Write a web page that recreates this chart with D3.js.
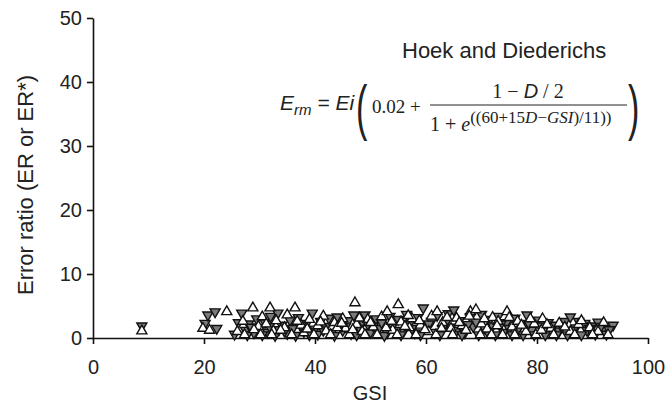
<!DOCTYPE html>
<html><head><meta charset="utf-8">
<script src="https://cdn.jsdelivr.net/npm/d3@7"></script>
<style>
body{margin:0;background:#fff;}
svg text{font-family:"Liberation Sans",Arial,sans-serif;fill:#222;}
</style></head>
<body><svg id="c" width="667" height="407"></svg>
<script>
// Down-triangle series (grey) — ER
const gsiER = [8.8,20.2,20.7,22,22.3,26.8,27.5,28,29,29.5,30,31,31.5,32,33.3,33.5,34,35,35.5,36,37,38,38.5,39.5,40,40.5,41,42,42.5,43,44,44.5,45,46,46.5,47,48,49,49.5,50,51,51.5,52,53,53.5,54,55,56,56.5,57,58,58.5,59.5,60,61,61.5,62,63,63.5,64,65,65.5,66,67,68,68.5,69,70,71,71.5,72,73,74,74.5,75,76,77,78.2,79,80,81,82,83,84,85,86,87,88.6,89,90,91,92,93.7,
  27.8,28.5,30.5,31.8,32.8,34.5,36.5,37.5,39,41.5,43.5,45.5,47.5,48.5,50.5,52.5,54.5,55.5,57.5,59,60.5,62.5,64.5,66.5,67.5,69.5,70.5,72.5,73.5,75.5,76.5,77.5,78.5,79.5,80.5,81.5,82.5,83.5,84.5,85.5,86.5,87.5,88,89.5,90.5,91.5,92.5,93,25.5,26.2];
const valER = [1.9,2.3,3.6,4.1,1.5,3.9,1.2,2.2,0.8,3.0,1.6,2.4,0.9,3.4,3.9,1.3,2.0,0.7,2.8,1.5,3.2,1.0,2.3,3.9,1.4,0.6,2.6,1.8,3.1,0.9,3.3,2.0,1.2,2.7,0.7,3.6,1.6,3.6,2.2,0.9,3.0,1.5,2.4,0.8,3.4,1.9,2.9,1.1,3.7,2.2,0.8,3.2,4.7,1.7,2.6,0.9,3.5,1.4,2.3,3.8,4.4,1.2,2.7,0.8,3.3,1.8,2.5,3.7,1.1,2.9,1.9,3.4,0.9,2.4,1.5,3.1,2.0,3.6,1.2,2.8,1.7,2.4,2.0,1.1,2.6,3.3,1.6,2.3,1.2,1.9,2.5,1.4,2.0,
  0.5,1.7,0.5,1.8,0.4,1.1,0.4,2.0,0.5,1.2,0.4,1.8,0.5,2.6,1.9,0.4,1.2,0.5,1.5,0.5,2.2,0.5,1.7,0.5,2.1,0.5,1.6,0.5,2.2,0.5,1.3,0.5,2.3,0.5,1.9,0.5,1.3,0.5,1.8,0.5,1.2,2.6,0.5,1.5,0.6,1.8,0.6,1.3,0.6,2.4];
// Up-triangle series (white) — ER*
const gsiERs = [8.8,19.8,21,24.1,26,27,28.8,29.8,30.5,31.9,32.5,33,34.5,35,36.4,37.5,38,39,40.5,41.5,42,43.5,45,45.5,47.2,47.5,48.5,49.5,50.5,52,53,54,55,55.5,57,57.5,59,60.5,61,62,63,64.5,65.5,66.5,68,69,70,71,72,73,74.6,75.5,76.5,78,79.5,81,82.5,84,86,87.5,89.5,91,
  27.3,29,30.2,31.2,32.2,33.8,35.8,36.8,38.6,39.8,41,42.8,44,44.8,46.2,46.8,48,49,50,51.2,52.8,53.8,54.8,56.2,56.8,58.2,58.8,59.8,61.8,62.8,63.8,64.8,66,67.2,67.8,69.8,70.5,71.8,72.8,73.8,75,76,77.2,78.8,79.8,80.8,81.8,83,85,86.8,88,90,92,92.8];
const valERs = [1.1,1.5,1.2,4.1,1.0,2.6,4.7,1.8,3.3,4.7,1.1,2.7,1.6,3.6,4.7,2.0,0.8,2.9,1.9,3.4,1.1,2.4,3.0,1.5,5.5,2.1,1.0,2.9,1.7,3.3,4.1,1.2,5.2,2.5,1.6,3.0,2.0,1.0,3.4,4.1,2.4,1.5,3.1,1.9,4.1,4.4,2.2,1.4,3.2,2.6,4.1,1.7,2.6,1.0,2.2,3.0,1.5,2.3,1.0,2.1,1.6,1.0,
  0.5,1.3,0.5,2.2,0.5,1.2,0.5,2.6,1.4,0.5,2.5,0.5,1.6,2.3,0.5,1.3,3.1,0.5,2.4,0.5,1.6,2.6,0.5,1.8,3.5,0.5,2.7,1.3,0.5,1.5,3.2,0.5,2.4,1.2,3.4,0.5,3.0,0.5,1.9,0.5,3.2,0.5,2.0,3.0,0.5,1.2,2.1,0.5,1.7,0.5,2.7,0.5,2.4,0.5];
const xTicks = [0,20,40,60,80,100];
const yTicks = [0,10,20,30,40,50];
const xTitle = "GSI";
const yTitle = "Error ratio (ER or ER*)";
const annoTitle = "Hoek and Diederichs";

const svg = d3.select("#c");
const x = d3.scaleLinear().domain([0,100]).range([93,648]);
const y = d3.scaleLinear().domain([0,50]).range([338,18]);

const gx = svg.append("g").attr("transform","translate(0,338)")
  .call(d3.axisBottom(x).tickValues(xTicks).tickSize(6).tickSizeOuter(0).tickPadding(16));
const gy = svg.append("g").attr("transform","translate(93,0)")
  .call(d3.axisLeft(y).tickValues(yTicks).tickSize(6).tickSizeOuter(0).tickPadding(5));
[gx,gy].forEach(g=>{
  g.selectAll("path,line").attr("stroke","#111").attr("stroke-width",1.6);
  g.selectAll("text").style("font-size","20px").attr("fill","#222");
});

svg.append("text").attr("x",370).attr("y",400).attr("text-anchor","middle")
  .style("font-size","20px").text(xTitle);
svg.append("text").attr("transform","translate(33,185) rotate(-90)").attr("text-anchor","middle")
  .style("font-size","22px").text(yTitle);

// markers
const tri = d3.symbol().type(d3.symbolTriangle).size(44);
const dataER = gsiER.map((g,i)=>({g,v:valER[i]}));
const dataERs = gsiERs.map((g,i)=>({g,v:valERs[i]}));
svg.append("g").selectAll("path").data(dataER).join("path")
  .attr("d",tri()).attr("transform",d=>`translate(${x(d.g)},${y(d.v)}) rotate(180)`)
  .attr("fill","#7a7a7a").attr("stroke","#111").attr("stroke-width",1.4);
svg.append("g").selectAll("path").data(dataERs).join("path")
  .attr("d",tri()).attr("transform",d=>`translate(${x(d.g)},${y(d.v)})`)
  .attr("fill","#fff").attr("stroke","#111").attr("stroke-width",1.4);

// annotation
svg.append("text").attr("x",402).attr("y",58).style("font-size","22px").text(annoTitle);
const f = svg.append("g");
const serif = '"Liberation Serif","Times New Roman",serif';
const t1 = f.append("text").attr("x",280).attr("y",110).style("font-size","21px").style("font-style","italic");
t1.append("tspan").text("E");
t1.append("tspan").attr("dy",5).style("font-size","15px").text("rm");
t1.append("tspan").attr("dy",-5).text(" = Ei");
f.append("text").attr("x",356).attr("y",128).style("font-size","62px").style("font-weight","300")
  .attr("transform","translate(356,0) scale(0.55,1) translate(-356,0)").text("(");
f.append("text").attr("x",372).attr("y",113).style("font-family",serif).style("font-size","19px").text("0.02 +");
const num = f.append("text").attr("x",528).attr("y",98).attr("text-anchor","middle").style("font-family",serif).style("font-size","20px");
num.append("tspan").text("1 − ");
num.append("tspan").style("font-style","italic").style("font-family",'"Liberation Sans",Arial,sans-serif').text("D");
num.append("tspan").text(" / 2");
f.append("line").attr("x1",430).attr("x2",627).attr("y1",105).attr("y2",105).attr("stroke","#222").attr("stroke-width",1.2);
const den = f.append("text").attr("x",430).attr("y",131).style("font-family",serif).style("font-size","20px");
den.append("tspan").text("1 + ");
den.append("tspan").style("font-style","italic").text("e");
const sup = den.append("tspan").attr("dy",-8).style("font-size","17px");
sup.append("tspan").text("((60+15");
sup.append("tspan").style("font-style","italic").text("D");
sup.append("tspan").text("−");
sup.append("tspan").style("font-style","italic").text("GSI");
sup.append("tspan").text(")/11))");
f.append("text").attr("x",628).attr("y",128).style("font-size","62px").style("font-weight","300")
  .attr("transform","translate(628,0) scale(0.55,1) translate(-628,0)").text(")");
</script></body></html>
